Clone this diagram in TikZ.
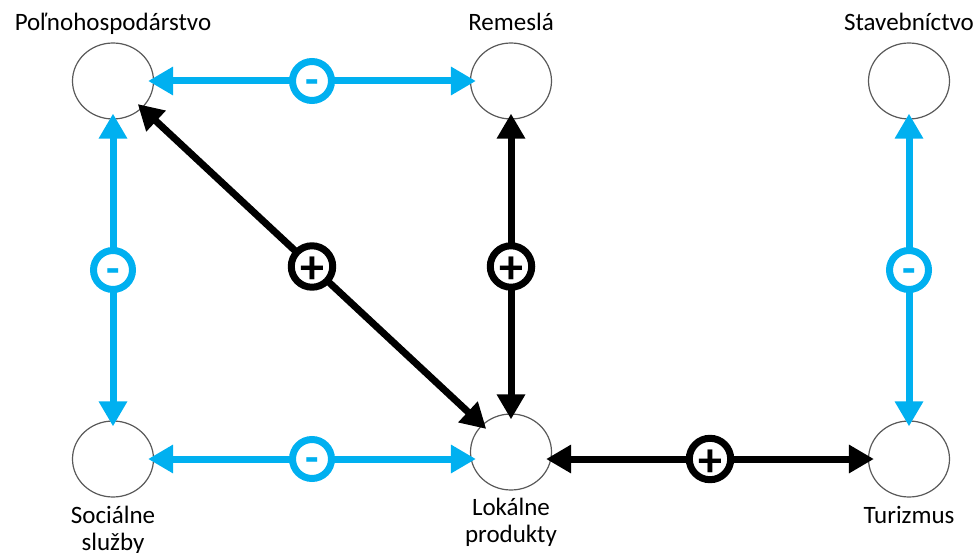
\documentclass[tikz,border=0pt]{standalone}
\usepackage{fontspec}
\setmainfont{Carlito}
\usetikzlibrary{shapes.geometric}
\usetikzlibrary{positioning, arrows.meta}
\definecolor{skyb}{HTML}{00B0F0}

\begin{document}
\begin{tikzpicture}[x=1pt, y=-1pt, >={Triangle[length=25pt,width=27pt]},
	crc/.style={draw=black!65, line width=1.2pt, shape=ellipse, minimum width=81pt, minimum height=76pt, inner sep=0pt},
	tlbl/.style={font=\fontsize{25}{25}\selectfont, inner sep=0pt, text height=16pt, text depth=5pt},
	blbl/.style={font=\fontsize{25}{27}\selectfont, inner sep=0pt, align=center},
	bline/.style={skyb, line width=7pt, <->, shorten >=-6pt, shorten <=-6pt},
	kline/.style={black, line width=7pt, <->, shorten >=-6pt, shorten <=-6pt},
	bsgn/.style={circle, draw=skyb, text=skyb, fill=white, line width=7pt, minimum size=39pt, inner sep=0pt,
		font=\bfseries\fontsize{44}{44}\selectfont, text height=27pt, text depth=0pt},
	ksgn/.style={circle, draw=black, text=black, fill=white, line width=7pt, minimum size=39pt, inner sep=0pt,
		font=\bfseries\fontsize{48}{48}\selectfont, text height=34pt, text depth=0pt}]
	\useasboundingbox (0,0) rectangle (976,553);
	\node[crc] (pol) at (113, 81) {};
	\node[crc] (rem) at (511, 81) {};
	\node[crc] (sta) at (909, 81) {};
	\node[crc] (soc) at (113, 459) {};
	\node[crc] (lok) at (511, 452) {};
	\node[crc] (tur) at (909, 459) {};
	\node[tlbl, above=7pt of pol] (polt) {Poľnohospodárstvo};
	\node[tlbl, above=7pt of rem] (remt) {Remeslá};
	\node[tlbl, above=7pt of sta] (stat) {Stavebníctvo};
	\node[blbl, below=8pt of soc] (soct) {Sociálne\\služby};
	\node[blbl, below=7pt of lok] (lokt) {Lokálne\\produkty};
	\node[tlbl, below=10pt of tur] (turt) {Turizmus};
	\draw[bline] (pol) -- node[bsgn] {-} (rem);
	\draw[bline] (pol) -- node[bsgn] {-} (soc);
	\draw[bline] (soc) -- node[bsgn] {-} (lok.west |- soc);
	\draw[bline] (sta) -- node[bsgn] {-} (tur);
	\draw[kline] (pol) -- node[ksgn] {+} (lok);
	\draw[kline] (rem) -- node[ksgn] {+} (lok);
	\draw[kline] (lok.east |- tur) -- node[ksgn] {+} (tur);
\end{tikzpicture}
\end{document}
